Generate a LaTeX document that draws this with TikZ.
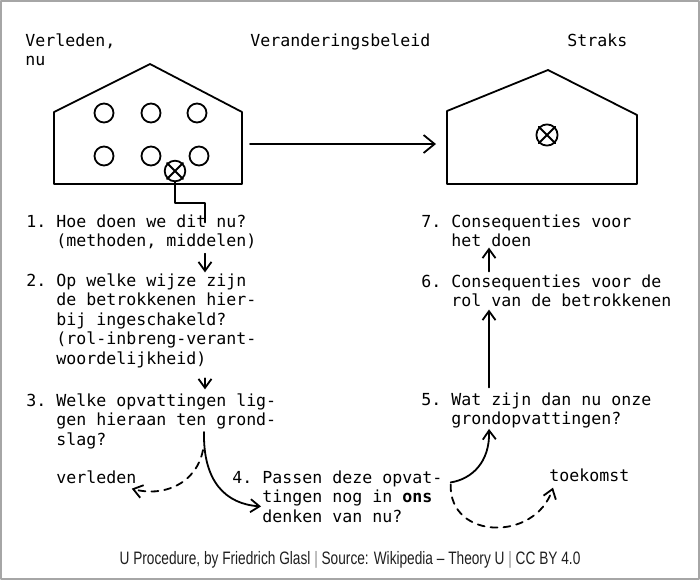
\documentclass[tikz,border=0pt]{standalone}
\usepackage{fontspec}
\setmonofont{DejaVu Sans Mono}
\newfontfamily\capfont[FakeStretch=0.76]{Liberation Sans}
\usetikzlibrary{arrows.meta}

\begin{document}
\begin{tikzpicture}[x=0.5pt,y=-0.5pt,line cap=round,line join=round,
  typed/.style={font=\ttfamily\fontsize{8.3}{9.75}\selectfont,inner sep=0pt,align=left},
  wall/.style={line width=0.9pt},
  ring/.style={circle,draw,line width=0.9pt,minimum size=9.5pt,inner sep=0pt},
  link/.style={line width=0.9pt},
  barb/.style={-{Straight Barb[length=4.5pt,width=6.5pt]}},
  bigbarb/.style={-{Straight Barb[length=5.5pt,width=9pt]}},
  guess/.style={dash pattern=on 3.5pt off 3pt}]
\useasboundingbox (0,0) rectangle (700,580);
\draw[black!35,line width=1pt] (1,1) rectangle (699,579);
\node[typed,anchor=north west] (nowlbl) at (25,32.4) {\strut Verleden,\\nu};
\node[typed,anchor=base west] (policylbl) at (250,46) {Veranderingsbeleid};
\node[typed,anchor=base west] (laterlbl) at (567,46) {Straks};
\draw[wall] (54,184) -- (54,112) -- (150,64) -- (242,112) -- (242,184) -- cycle;
\draw[wall] (447,184) -- (447,111) -- (548,70) -- (637,115) -- (637,184) -- cycle;
\coordinate (oldE) at (242,144);
\coordinate (newW) at (447,144);
\node[ring] (p1) at (104,113) {};
\node[ring] (p2) at (151,113) {};
\node[ring] (p3) at (197,113) {};
\node[ring] (p4) at (104,156) {};
\node[ring] (p5) at (151,156) {};
\node[ring] (p6) at (199,156) {};
\node[ring,minimum size=10.3pt] (xold) at (175,171) {};
\draw[link] (xold.north east) -- (xold.south west) (xold.north west) -- (xold.south east);
\node[ring,minimum size=10.6pt] (xnew) at (547,135) {};
\draw[link] (xnew.north east) -- (xnew.south west) (xnew.north west) -- (xnew.south east);
\draw[link,bigbarb,shorten <=4pt,shorten >=5.5pt] (oldE) -- (newW);
\coordinate (uL) at (205,0);
\coordinate (uR) at (489,0);
\node[typed,anchor=north west] (q1) at (26,213.4) {\strut 1.~Hoe doen we dit nu?\\\hphantom{1.~}(methoden, middelen)};
\node[typed,anchor=north west] (q2) at (26,272.4) {\strut 2.~Op welke wijze zijn\\\hphantom{2.~}de betrokkenen hier-\\\hphantom{2.~}bij ingeschakeld?\\\hphantom{2.~}(rol-inbreng-verant-\\\hphantom{2.~}woordelijkheid)};
\node[typed,anchor=north west] (q3) at (26,392.4) {\strut 3.~Welke opvattingen lig-\\\hphantom{3.~}gen hieraan ten grond-\\\hphantom{3.~}slag?};
\node[typed,anchor=north west] (q4) at (232,469.4) {\strut 4.~Passen deze opvat-\\\hphantom{4.~}tingen nog in \textbf{ons}\\\hphantom{4.~}denken van nu?};
\node[typed,anchor=north west] (q5) at (421,391.4) {\strut 5.~Wat zijn dan nu onze\\\hphantom{5.~}grondopvattingen?};
\node[typed,anchor=north west] (q6) at (421,273.4) {\strut 6.~Consequenties voor de\\\hphantom{6.~}rol van de betrokkenen};
\node[typed,anchor=north west] (q7) at (421,213.4) {\strut 7.~Consequenties voor\\\hphantom{7.~}het doen};
\node[typed,anchor=base west] (pastlbl) at (56,483) {verleden};
\node[typed,anchor=base west] (futurelbl) at (549,481) {toekomst};
\draw[link] (xold.south) -- ++(0,20.5) -| ([yshift=-4.5pt]q1.north -| uL);
\draw[link,barb,shorten <=2pt] (q1.south -| uL) -- (q2.north -| uL);
\draw[link,barb,shorten <=5pt,shorten >=1.5pt] (q2.south -| uL) -- (q3.north -| uL);
\coordinate (stem) at (204,432);
\coordinate (fork) at (203,450);
\draw[link,barb] (stem) .. controls (203,482) and (226,504) .. ([shift={(29,37)}]q4.north west);
\draw[link,guess,barb] (fork) .. controls (196,485) and (162,497) .. ([shift={(-5,5)}]pastlbl.south east);
\draw[link,barb] ([shift={(8,13)}]q4.north east) .. controls (472,479) and (490,462) .. (q5.south -| uR);
\draw[link,guess,barb] ([shift={(8,15)}]q4.north east) .. controls (449,540) and (535,542) .. ([shift={(4,6)}]futurelbl.south west);
\draw[link,barb,shorten <=2pt,shorten >=1pt] (q5.north -| uR) -- (q6.south -| uR);
\draw[link,barb,shorten <=1pt] (q6.north -| uR) -- (q7.south -| uR);
\node[font=\capfont\fontsize{9}{10}\selectfont,text=black!88,anchor=base] (credit) at (350,564) {U Procedure, by Friedrich Glasl {\color{black!45}|} Source: Wikipedia – Theory U {\color{black!45}|} CC BY 4.0};
\end{tikzpicture}
\end{document}
